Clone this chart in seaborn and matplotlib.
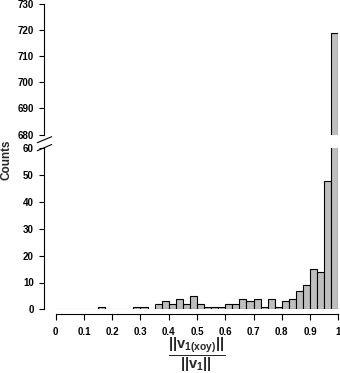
import numpy as np
import pandas as pd
import matplotlib
matplotlib.use('Agg')
import matplotlib.pyplot as plt
import seaborn as sns
from matplotlib.lines import Line2D

# counts per bin (40 bins of width 0.025 on [0, 1])
counts = [0, 0, 0, 0, 0, 0, 1, 0, 0, 0,
          0, 1, 1, 0, 2, 3, 2, 4, 2, 5,
          2, 1, 1, 1, 2, 2, 4, 3, 4, 1,
          4, 1, 3, 4, 7, 9, 15, 14, 48, 719]
edges = np.linspace(0, 1, len(counts) + 1)
centers = (edges[:-1] + edges[1:]) / 2
xticks = np.round(np.arange(0, 1.01, 0.1), 1)
xticklabels = ['0', '0.1', '0.2', '0.3', '0.4', '0.5', '0.6', '0.7', '0.8', '0.9', '1']
low_ticks = [0, 10, 20, 30, 40, 50, 60]
high_ticks = [680, 690, 700, 710, 720, 730]

df = pd.DataFrame({'ratio': centers, 'n': counts})

sns.set_style('ticks')
plt.rcParams['font.family'] = ['Liberation Sans', 'DejaVu Sans']
plt.rcParams['mathtext.fontset'] = 'custom'
plt.rcParams['mathtext.rm'] = 'Liberation Sans:bold'
plt.rcParams['mathtext.it'] = 'Liberation Sans:bold'
plt.rcParams['mathtext.bf'] = 'Liberation Sans:bold'

W, H = 340, 373
fig = plt.figure(figsize=(W / 100, H / 100), dpi=100)

def px(x0, y0, x1, y1):
    # pixel box (top-left origin) -> figure fraction rect
    return [x0 / W, 1 - y1 / H, (x1 - x0) / W, (y1 - y0) / H]

ax_lo = fig.add_axes(px(55.7, 148.5, 338.3, 309.3))
ax_hi = fig.add_axes(px(55.7, 3.7, 338.3, 134.7))

for ax in (ax_lo, ax_hi):
    sns.histplot(data=df, x='ratio', weights='n', bins=list(edges), ax=ax,
                 color='#bebebe', edgecolor='black', linewidth=0.8, alpha=1)
    for p in ax.patches:
        if p.get_height() == 0:
            p.set_edgecolor('#a0a0a0')
    ax.set_xlim(0, 1)
    ax.spines['top'].set_visible(False)
    ax.spines['right'].set_visible(False)
    ax.spines['left'].set_position(('outward', 8.2))
    ax.spines['left'].set_color('black')
    ax.tick_params(axis='y', labelsize=7, length=3.6, width=0.8, pad=4,
                   colors='black')
    ax.set_ylabel('')
    ax.patch.set_alpha(0)

ax_lo.set_ylim(0, 60)
ax_lo.set_yticks(low_ticks)
ax_lo.spines['left'].set_bounds(0, 60)
ax_lo.spines['bottom'].set_position(('outward', 3.4))
ax_lo.spines['bottom'].set_bounds(0, 1)
ax_lo.spines['bottom'].set_color('black')
ax_lo.set_xticks(xticks)
ax_lo.set_xticklabels(xticklabels, fontweight='bold')
ax_lo.tick_params(axis='x', labelsize=7, length=4, width=0.8, pad=5.5,
                  colors='black')
ax_lo.set_xlabel('')

ax_hi.set_ylim(680, 730)
ax_hi.set_yticks(high_ticks)
ax_hi.spines['left'].set_bounds(680, 730)
ax_hi.spines['bottom'].set_visible(False)
ax_hi.set_xticks([])
ax_hi.set_xlabel('')

for ax in (ax_lo, ax_hi):
    for t in ax.get_yticklabels():
        t.set_fontweight('bold')

# x label as a fraction
fig.text(197 / W, 1 - 355 / H,
         r'$\dfrac{||\mathrm{v}_{1(xoy)}||}{||\mathrm{v}_1||}$',
         fontsize=10.5, ha='center', va='center')

# axis break marks
for (x0, y0, x1, y1) in [(37.3, 142.7, 51.7, 136.7), (37.3, 150.7, 51.7, 144.5)]:
    fig.add_artist(Line2D([x0 / W, x1 / W], [1 - y0 / H, 1 - y1 / H],
                          color='black', linewidth=0.8))

fig.text(6.5 / W, 1 - 160 / H, 'Counts', rotation=90, fontsize=8.5,
         fontweight='bold', ha='center', va='center')

fig.savefig('out.png', dpi=100)
